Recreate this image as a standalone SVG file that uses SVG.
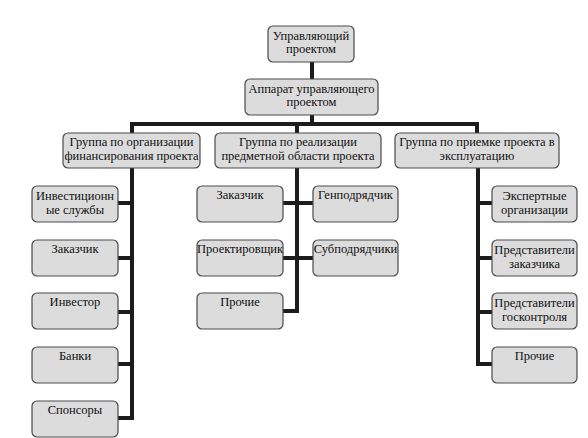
<svg xmlns="http://www.w3.org/2000/svg" width="588" height="438" viewBox="0 0 588 438">
<style>
.box{fill:#dcdcdc;stroke:#4a4a4a;stroke-width:1.2}
.ln{stroke:#1c1c1c;stroke-width:4;fill:none;stroke-linecap:square}
.t{font-family:'Liberation Serif','DejaVu Serif',serif;font-size:12.5px;fill:#111;text-anchor:middle}
</style>
<rect width="588" height="438" fill="#ffffff"/>
<g id="connectors">
<path class="ln" d="M312 62V79M312 115V124M132 124H477M132 124V133M297 124V133M477 124V133"/>
<path class="ln" d="M132 168V418M118 203H132M118 258H132M118 312H132M118 364H132M118 418H132"/>
<path class="ln" d="M297 168V311M283 203H313M283 258H313M283 311H297"/>
<path class="ln" d="M478 168V364M478 203H492M478 258H492M478 312H492M478 364H492"/>
</g>
<g id="n_manager"><rect class="box" x="268" y="26" width="86" height="36" rx="5"/><text class="t" x="311" y="40">Управляющий</text><text class="t" x="311" y="53">проектом</text></g>
<g id="n_apparat"><rect class="box" x="245" y="79" width="133" height="36" rx="5"/><text class="t" x="311.5" y="93">Аппарат управляющего</text><text class="t" x="311.5" y="106">проектом</text></g>
<g id="n_g1"><rect class="box" x="63" y="133" width="137" height="35" rx="5"/><text class="t" x="131.5" y="146">Группа по организации</text><text class="t" x="131.5" y="160">финансирования проекта</text></g>
<g id="n_g2"><rect class="box" x="215" y="133" width="166" height="35" rx="5"/><text class="t" x="298" y="146">Группа по реализации</text><text class="t" x="298" y="160">предметной области проекта</text></g>
<g id="n_g3"><rect class="box" x="395" y="133" width="164" height="35" rx="5"/><text class="t" x="477" y="146">Группа по приемке проекта в</text><text class="t" x="477" y="160">эксплуатацию</text></g>
<g id="n_l1"><rect class="box" x="32" y="186" width="86" height="36" rx="5"/><text class="t" x="75" y="200">Инвестиционн</text><text class="t" x="75" y="214">ые службы</text></g>
<g id="n_l2"><rect class="box" x="32" y="240" width="86" height="36" rx="5"/><text class="t" x="75" y="253">Заказчик</text></g>
<g id="n_l3"><rect class="box" x="32" y="293" width="86" height="36" rx="5"/><text class="t" x="75" y="306">Инвестор</text></g>
<g id="n_l4"><rect class="box" x="32" y="347" width="86" height="36" rx="5"/><text class="t" x="75" y="360">Банки</text></g>
<g id="n_l5"><rect class="box" x="32" y="401" width="86" height="36" rx="5"/><text class="t" x="75" y="414">Спонсоры</text></g>
<g id="n_m1"><rect class="box" x="197" y="186" width="86" height="36" rx="5"/><text class="t" x="240" y="199">Заказчик</text></g>
<g id="n_m2"><rect class="box" x="197" y="240" width="86" height="36" rx="5"/><text class="t" x="240" y="253">Проектировщик</text></g>
<g id="n_m3"><rect class="box" x="197" y="293" width="86" height="36" rx="5"/><text class="t" x="240" y="306">Прочие</text></g>
<g id="n_m4"><rect class="box" x="313" y="186" width="85" height="36" rx="5"/><text class="t" x="355.5" y="199">Генподрядчик</text></g>
<g id="n_m5"><rect class="box" x="313" y="240" width="85" height="36" rx="5"/><text class="t" x="355.5" y="253">Субподрядчики</text></g>
<g id="n_r1"><rect class="box" x="492" y="186" width="85" height="36" rx="5"/><text class="t" x="534.5" y="200">Экспертные</text><text class="t" x="534.5" y="214">организации</text></g>
<g id="n_r2"><rect class="box" x="492" y="240" width="85" height="36" rx="5"/><text class="t" x="534.5" y="254">Представители</text><text class="t" x="534.5" y="268">заказчика</text></g>
<g id="n_r3"><rect class="box" x="492" y="293" width="85" height="36" rx="5"/><text class="t" x="534.5" y="307">Представители</text><text class="t" x="534.5" y="321">госконтроля</text></g>
<g id="n_r4"><rect class="box" x="492" y="347" width="85" height="36" rx="5"/><text class="t" x="534.5" y="360">Прочие</text></g>
</svg>
